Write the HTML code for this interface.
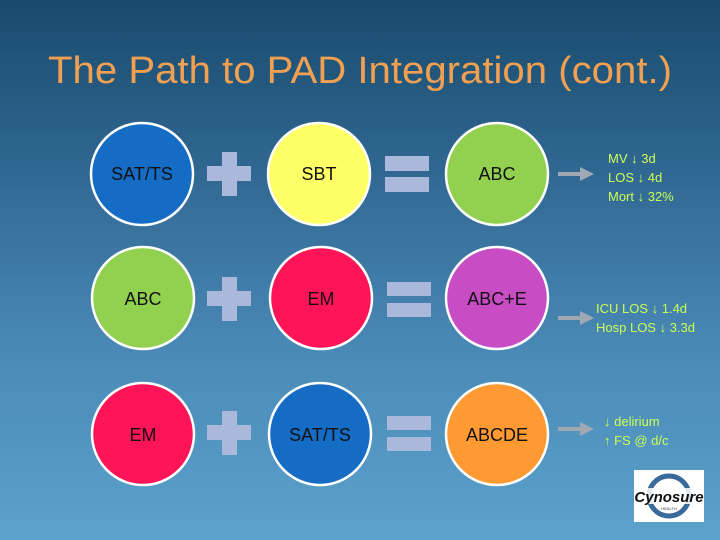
<!DOCTYPE html>
<html><head><meta charset="utf-8"><style>
html,body{margin:0;padding:0;width:720px;height:540px;overflow:hidden}
body{background:linear-gradient(to bottom,#184a6c 0%,#2f6690 30%,#4a89b6 65%,#5ba2cc 100%)}
svg{display:block}
</style></head><body>
<svg width="720" height="540" xmlns="http://www.w3.org/2000/svg" font-family="Liberation Sans, DejaVu Sans, sans-serif">
<text x="48" y="83" font-size="38" fill="#f0a050" textLength="624" lengthAdjust="spacingAndGlyphs">The Path to PAD Integration (cont.)</text>
<g stroke="#fff" stroke-width="2.5">
<circle cx="142" cy="174" r="51" fill="#156cc4"/>
<circle cx="319" cy="174" r="51" fill="#ffff66"/>
<circle cx="497" cy="174" r="51" fill="#92d050"/>
<circle cx="143" cy="298" r="51" fill="#92d050"/>
<circle cx="321" cy="298" r="51" fill="#ff1458"/>
<circle cx="497" cy="298" r="51" fill="#c84cc4"/>
<circle cx="143" cy="434" r="51" fill="#ff1458"/>
<circle cx="320" cy="434" r="51" fill="#156cc4"/>
<circle cx="497" cy="434" r="51" fill="#ff9a33"/>
</g>
<g font-size="18" fill="#111" text-anchor="middle">
<text x="142" y="180">SAT/TS</text><text x="319" y="180">SBT</text><text x="497" y="180">ABC</text>
<text x="143" y="305">ABC</text><text x="321" y="305">EM</text><text x="497" y="305">ABC+E</text>
<text x="143" y="441">EM</text><text x="320" y="441">SAT/TS</text><text x="497" y="441">ABCDE</text>
</g>
<g fill="#aab8dc">
<rect x="222" y="152" width="15" height="44"/><rect x="207" y="166" width="44" height="15"/>
<rect x="222" y="277" width="15" height="44"/><rect x="207" y="291" width="44" height="15"/>
<rect x="222" y="411" width="15" height="44"/><rect x="207" y="425" width="44" height="15"/>
<rect x="385" y="156" width="44" height="15"/><rect x="385" y="177" width="44" height="15"/>
<rect x="387" y="282" width="44" height="14"/><rect x="387" y="303" width="44" height="14"/>
<rect x="387" y="416" width="44" height="14"/><rect x="387" y="437" width="44" height="14"/>
</g>
<g fill="#a0a8b4">
<rect x="558" y="172" width="24" height="4"/><polygon points="580,167 594,174 580,181"/>
<rect x="558" y="316" width="24" height="4"/><polygon points="580,311 594,318 580,325"/>
<rect x="558" y="427" width="24" height="4"/><polygon points="580,422 594,429 580,436"/>
</g>
<g font-size="13" fill="#ccff55">
<text x="608" y="163">MV ↓ 3d</text><text x="608" y="182">LOS ↓ 4d</text><text x="608" y="201">Mort ↓ 32%</text>
<text x="596" y="313">ICU LOS ↓ 1.4d</text><text x="596" y="332">Hosp LOS ↓ 3.3d</text>
<text x="604" y="426">↓ delirium</text><text x="604" y="445">↑ FS @ d/c</text>
</g>
<rect x="634" y="470" width="70" height="52" fill="#fff"/>
<circle cx="669" cy="496" r="20" fill="none" stroke="#3a6a9a" stroke-width="5"/>
<rect x="634" y="488" width="70" height="16" fill="#fff" opacity="0.85"/>
<text x="669" y="502" font-size="15" font-style="italic" font-weight="bold" fill="#111" text-anchor="middle">Cynosure</text>
<text x="669" y="510" font-size="4" fill="#333" text-anchor="middle">HEALTH</text>
</svg>
</body></html>
